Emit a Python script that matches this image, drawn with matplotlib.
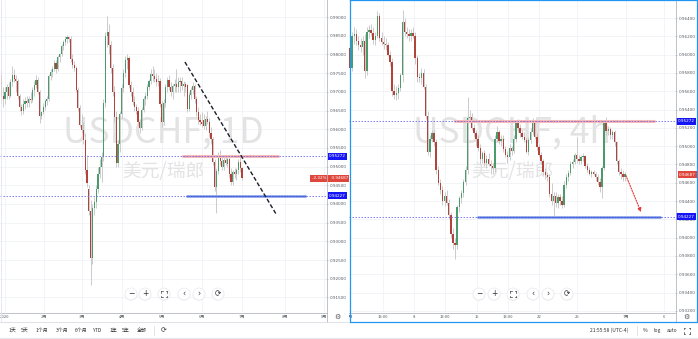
import numpy as np
import matplotlib
matplotlib.use("Agg")
import matplotlib.pyplot as plt
from matplotlib.patches import Circle

plt.rcParams['font.family'] = ['Noto Sans CJK SC', 'DejaVu Sans']

# ---------------- data: USDCHF daily (left) ----------------
left_start = -2
left_open = [
 .9745,.9690,.9680,.9700,.9712,.9690,.9725,.9745,.9735,.9730,
 .9688,.9660,.9648,.9668,.9675,.9670,.9682,.9678,.9705,.9718,
 .9732,.9700,.9635,.9645,.9660,.9675,.9680,.9742,.9752,.9762,
 .9777,.9760,.9792,.9800,.9822,.9832,.9840,.9846,.9842,.9788,
 .9772,.9764,.9705,.9657,.9612,.9598,.9571,.9491,.9440,.9380,
 .9256,.9390,.9405,.9440,.9480,.9500,.9526,.9670,.9850,.9860,
 .9825,.9765,.9700,.9633,.9510,.9560,.9640,.9710,.9750,.9785,
 .9790,.9718,.9700,.9672,.9660,.9650,.9620,.9604,.9652,.9680,
 .9690,.9712,.9728,.9748,.9742,.9735,.9725,.9730,.9668,.9620,
 .9670,.9712,.9732,.9712,.9700,.9715,.9720,.9712,.9725,.9730,
 .9715,.9720,.9718,.9655,.9692,.9705,.9716,.9680,.9645,.9625,
 .9620,.9625,.9608,.9628,.9620,.9590,.9575,.9512,.9445,.9488,
 .9530,.9515,.9500,.9518,.9508,.9520,.9480,.9458,.9485,.9480,
 .9490,.9512,.9495]
left_high = [
 .9758,.9712,.9712,.9722,.9725,.9735,.9770,.9760,.9745,.9735,
 .9695,.9668,.9680,.9685,.9690,.9688,.9700,.9712,.9730,.9745,
 .9740,.9705,.9650,.9670,.9682,.9690,.9748,.9760,.9770,.9785,
 .9785,.9798,.9805,.9828,.9838,.9848,.9852,.9850,.9848,.9800,
 .9782,.9770,.9712,.9665,.9640,.9620,.9590,.9530,.9450,.9410,
 .9400,.9420,.9450,.9500,.9520,.9540,.9680,.9860,.9902,.9880,
 .9835,.9775,.9715,.9650,.9570,.9650,.9720,.9760,.9795,.9800,
 .9795,.9730,.9712,.9690,.9668,.9660,.9628,.9660,.9690,.9700,
 .9720,.9735,.9760,.9768,.9760,.9750,.9745,.9738,.9675,.9680,
 .9720,.9740,.9745,.9725,.9720,.9735,.9760,.9740,.9740,.9740,
 .9730,.9725,.9722,.9700,.9712,.9725,.9720,.9690,.9660,.9640,
 .9645,.9640,.9635,.9650,.9630,.9605,.9580,.9520,.9495,.9540,
 .9545,.9530,.9525,.9528,.9525,.9525,.9495,.9490,.9495,.9495,
 .9520,.9525,.9500]
left_low = [
 .9670,.9660,.9668,.9680,.9680,.9685,.9715,.9725,.9700,.9680,
 .9650,.9638,.9640,.9655,.9660,.9660,.9670,.9672,.9690,.9710,
 .9695,.9617,.9628,.9640,.9652,.9665,.9675,.9732,.9740,.9755,
 .9750,.9755,.9780,.9795,.9812,.9825,.9830,.9832,.9780,.9765,
 .9755,.9700,.9650,.9605,.9590,.9560,.9480,.9445,.9370,.9183,
 .9240,.9370,.9390,.9430,.9470,.9460,.9515,.9660,.9820,.9800,
 .9750,.9690,.9620,.9500,.9500,.9540,.9630,.9700,.9740,.9760,
 .9710,.9690,.9665,.9650,.9640,.9610,.9590,.9598,.9645,.9665,
 .9680,.9705,.9720,.9730,.9725,.9715,.9715,.9660,.9605,.9612,
 .9660,.9700,.9705,.9690,.9680,.9700,.9700,.9700,.9700,.9705,
 .9690,.9700,.9645,.9650,.9680,.9695,.9670,.9635,.9615,.9610,
 .9605,.9600,.9598,.9615,.9580,.9560,.9505,.9435,.9377,.9480,
 .9505,.9490,.9490,.9505,.9500,.9470,.9450,.9450,.9470,.9465,
 .9480,.9485,.9465]
left_close = [
 .9690,.9680,.9700,.9712,.9690,.9725,.9745,.9735,.9730,.9688,
 .9660,.9648,.9668,.9675,.9670,.9682,.9678,.9705,.9718,.9732,
 .9700,.9635,.9645,.9660,.9675,.9680,.9742,.9752,.9762,.9777,
 .9760,.9792,.9800,.9822,.9832,.9840,.9846,.9842,.9788,.9772,
 .9764,.9705,.9657,.9612,.9598,.9571,.9491,.9456,.9380,.9256,
 .9390,.9405,.9440,.9480,.9500,.9526,.9670,.9850,.9860,.9825,
 .9765,.9700,.9633,.9510,.9560,.9640,.9710,.9750,.9785,.9790,
 .9718,.9700,.9672,.9660,.9650,.9620,.9604,.9652,.9680,.9690,
 .9712,.9728,.9748,.9742,.9735,.9725,.9730,.9668,.9620,.9670,
 .9712,.9732,.9712,.9700,.9715,.9720,.9712,.9725,.9730,.9715,
 .9720,.9712,.9655,.9692,.9705,.9716,.9680,.9645,.9625,.9620,
 .9615,.9608,.9628,.9620,.9590,.9575,.9512,.9445,.9488,.9530,
 .9515,.9500,.9518,.9510,.9520,.9480,.9458,.9485,.9480,.9490,
 .9512,.9495,.9469]

# ---------------- data: USDCHF 4h (right) ----------------
right_start = 0
right_open = [
 .9607,.9585,.9620,.9622,.9615,.9610,.9608,.9615,.9582,.9625,
 .9627,.9624,.9616,.9620,.9642,.9618,.9614,.9612,.9610,.9600,
 .9592,.9560,.9556,.9558,.9564,.9578,.9636,.9625,.9622,.9620,
 .9624,.9620,.9596,.9576,.9574,.9580,.9565,.9533,.9494,.9508,
 .9514,.9505,.9474,.9460,.9452,.9440,.9446,.9438,.9425,.9404,
 .9394,.9392,.9433,.9443,.9449,.9461,.9474,.9531,.9532,.9520,
 .9514,.9508,.9498,.9486,.9492,.9482,.9486,.9481,.9478,.9476,
 .9508,.9515,.9506,.9508,.9497,.9490,.9488,.9498,.9495,.9508,
 .9525,.9520,.9514,.9510,.9507,.9494,.9507,.9515,.9525,.9510,
 .9499,.9490,.9484,.9472,.9468,.9466,.9448,.9440,.9446,.9438,
 .9444,.9440,.9436,.9458,.9466,.9471,.9480,.9483,.9490,.9486,
 .9484,.9488,.9489,.9478,.9474,.9470,.9472,.9470,.9466,.9461,
 .9455,.9476,.9525,.9516,.9519,.9512,.9515,.9504,.9484,.9472,
 .9470,.9466]
right_high = [
 .9612,.9625,.9630,.9628,.9620,.9618,.9620,.9622,.9630,.9632,
 .9633,.9630,.9625,.9648,.9646,.9625,.9620,.9618,.9614,.9604,
 .9596,.9568,.9566,.9568,.9580,.9649,.9640,.9630,.9628,.9628,
 .9630,.9625,.9600,.9580,.9585,.9584,.9568,.9538,.9512,.9518,
 .9518,.9508,.9478,.9464,.9456,.9450,.9452,.9442,.9428,.9410,
 .9400,.9436,.9446,.9452,.9464,.9478,.9554,.9540,.9536,.9524,
 .9518,.9512,.9502,.9495,.9496,.9490,.9492,.9485,.9482,.9512,
 .9522,.9518,.9512,.9512,.9500,.9495,.9502,.9500,.9512,.9528,
 .9530,.9524,.9518,.9515,.9510,.9510,.9520,.9531,.9528,.9514,
 .9502,.9494,.9486,.9476,.9472,.9470,.9460,.9450,.9450,.9448,
 .9448,.9445,.9462,.9470,.9474,.9484,.9486,.9492,.9510,.9490,
 .9490,.9492,.9490,.9482,.9477,.9474,.9474,.9472,.9470,.9465,
 .9478,.9528,.9532,.9522,.9521,.9518,.9518,.9506,.9486,.9476,
 .9474,.9472]
right_low = [
 .9580,.9582,.9612,.9610,.9605,.9603,.9600,.9574,.9578,.9618,
 .9620,.9612,.9610,.9618,.9615,.9610,.9606,.9605,.9598,.9588,
 .9555,.9552,.9550,.9552,.9560,.9570,.9620,.9618,.9615,.9615,
 .9618,.9590,.9570,.9570,.9568,.9562,.9530,.9490,.9488,.9505,
 .9500,.9470,.9458,.9448,.9436,.9435,.9436,.9420,.9400,.9388,
 .9377,.9388,.9428,.9438,.9444,.9458,.9470,.9525,.9518,.9510,
 .9500,.9495,.9480,.9482,.9478,.9476,.9478,.9470,.9470,.9472,
 .9505,.9502,.9500,.9494,.9488,.9482,.9485,.9490,.9492,.9505,
 .9515,.9510,.9508,.9505,.9492,.9490,.9503,.9512,.9508,.9496,
 .9488,.9480,.9468,.9464,.9462,.9444,.9436,.9421,.9434,.9432,
 .9436,.9432,.9433,.9454,.9462,.9468,.9476,.9480,.9482,.9480,
 .9480,.9484,.9476,.9472,.9468,.9466,.9468,.9462,.9458,.9450,
 .9443,.9474,.9512,.9512,.9508,.9508,.9500,.9480,.9468,.9464,
 .9462,.9462]
right_close = [
 .9585,.9620,.9622,.9615,.9610,.9608,.9615,.9582,.9625,.9627,
 .9624,.9616,.9620,.9642,.9618,.9614,.9612,.9610,.9600,.9592,
 .9560,.9556,.9558,.9564,.9578,.9636,.9625,.9622,.9620,.9624,
 .9620,.9596,.9576,.9574,.9580,.9565,.9533,.9494,.9508,.9514,
 .9505,.9474,.9460,.9452,.9440,.9446,.9438,.9425,.9404,.9394,
 .9392,.9433,.9443,.9449,.9461,.9474,.9531,.9532,.9520,.9514,
 .9508,.9498,.9486,.9492,.9482,.9486,.9481,.9478,.9476,.9508,
 .9515,.9506,.9508,.9497,.9490,.9488,.9498,.9495,.9508,.9525,
 .9520,.9514,.9510,.9507,.9494,.9507,.9515,.9525,.9510,.9499,
 .9490,.9484,.9472,.9468,.9466,.9448,.9440,.9446,.9438,.9444,
 .9440,.9436,.9458,.9466,.9471,.9480,.9483,.9490,.9486,.9484,
 .9488,.9489,.9478,.9474,.9470,.9472,.9470,.9466,.9461,.9455,
 .9476,.9525,.9516,.9519,.9512,.9515,.9504,.9484,.9472,.9470,
 .9466,.9469]

# ---------------- axes ticks / labels ----------------
left_yticks = [0.915, 0.920, 0.925, 0.930, 0.935, 0.940, 0.945, 0.950,
               0.955, 0.960, 0.965, 0.970, 0.975, 0.980, 0.985, 0.990]
right_yticks = [0.932, 0.934, 0.936, 0.938, 0.940, 0.942, 0.944, 0.946, 0.948,
                0.950, 0.952, 0.954, 0.956, 0.958, 0.960, 0.962, 0.964]
left_xtick_pos = [0, 21.4, 42.2, 64.2, 86.2, 108.2, 130, 153.6, 175]
left_xtick_labels = ['2020', '2月', '3月', '4月', '5月', '6月', '7月', '8月', '9月']
right_xtick_pos = [0, 15.7, 30.5, 45.2, 60.5, 75.2, 90, 108.1, 131.4, 149.5]
right_xtick_labels = ['6月', '13:00', '8', '13:00', '15', '13:00', '22', '25', '7月', '6']

# drawing annotations (price levels / trend line / arrow)
resistance = 0.95272
support = 0.94227
last_price = 0.94687
change_pct = '-2.32%'
left_trend_x = [98.7, 148.7]
left_trend_y = [0.97797, 0.93732]
left_res_span = [97.1, 150.3]
left_sup_span = [99.3, 165.1]
right_res_span = [49.5, 145.2]
right_sup_span = [60.3, 148.1]
right_arrow_x = [131.4, 138.6]
right_arrow_y = [0.9468, 0.9428]

# ---------------- styling ----------------
UP = '#4b9a6c'
DOWN = '#b2433a'
WICK = '#c3c3c3'
GRID = '#eef0f4'
TXT = '#555a63'
BLUE_LBL = '#1515f5'
RED_LBL = '#e0473c'

W, H = 698, 339
fig = plt.figure(figsize=(W / 100, H / 100), dpi=100)
fig.patch.set_facecolor('white')


def px_axes(x0, y0, x1, y1):
    return fig.add_axes([x0 / W, 1 - y1 / H, (x1 - x0) / W, (y1 - y0) / H])


def candles(ax, start, o, h, l, c, width, minh):
    o, h, l, c = map(np.asarray, (o, h, l, c))
    x = np.arange(start, start + len(o))
    ax.vlines(x, l, h, color=WICK, lw=0.6, zorder=3)
    bottom = np.minimum(o, c)
    height = np.maximum(np.abs(c - o), minh)
    cols = np.where(c >= o, UP, DOWN)
    ax.bar(x, height, bottom=bottom, width=width, color=cols, lw=0, zorder=4)


def pane(x0, x1, start, o, h, l, c, xlim, ylim, yticks, xpos, xlabels,
         width, minh, title, sub):
    ax = px_axes(x0, 0, x1, 312)
    ax.set_xlim(xlim)
    ax.set_ylim(ylim)
    ax.set_facecolor('white')
    for s in ax.spines.values():
        s.set_visible(False)
    ax.set_yticks(yticks)
    ax.set_yticklabels([f'{t:.5f}' for t in yticks], family='DejaVu Sans')
    ax.yaxis.tick_right()
    ax.tick_params(axis='y', length=1.6, width=0.4, color='#9a9da5',
                   labelsize=3.0, labelcolor=TXT, pad=1.4)
    ax.set_xticks(xpos)
    ax.tick_params(axis='x', length=0, labelbottom=False)
    ax.grid(True, color=GRID, lw=0.5)
    ax.set_axisbelow(True)
    ax.text(0.5, 1 - 132 / 312, title, transform=ax.transAxes, ha='center',
            va='center', fontsize=25.5, color='#e3e3e3', zorder=1)
    ax.text(0.5, 1 - 172 / 312, sub, transform=ax.transAxes, ha='center',
            va='center', fontsize=13.5, color='#e3e3e3', zorder=1)
    candles(ax, start, o, h, l, c, width, minh)

    tax = px_axes(x0, 312, x1, 322)
    tax.set_xlim(xlim)
    tax.set_ylim(0, 1)
    tax.axis('off')
    for p, lab in zip(xpos, xlabels):
        tax.text(p, 0.55, lab, ha='center', va='center', fontsize=3.0,
                 color=TXT, clip_on=True)
    return ax


def level_lines(ax, res_span, sup_span):
    ax.hlines(resistance, res_span[0], res_span[1], color='#f6bcbc', lw=2.2, zorder=5)
    ax.hlines(resistance, res_span[0], res_span[1], color='#e06a6a', lw=0.5,
              linestyles=(0, (2, 1.5)), zorder=6)
    ax.hlines(support, sup_span[0], sup_span[1], color='#9db4ee', lw=2.0, zorder=5)
    ax.hlines(support, sup_span[0], sup_span[1], color='#3a62d6', lw=0.9, zorder=6)
    for lv in (resistance, support):
        ax.axhline(lv, color='#6f6ff0', lw=0.6, ls=(0, (1.8, 1.8)), zorder=7)


def price_labels(x0, x1, ylim, red_text):
    pax = px_axes(x0, 0, x1, 312)
    pax.set_ylim(ylim)
    pax.set_xlim(0, 1)
    pax.axis('off')
    for lv in (resistance, support):
        pax.text(0.5, lv, f'{lv:.5f}', ha='center', va='center', fontsize=3.0,
                 color='white', family='DejaVu Sans', zorder=10, clip_on=False,
                 bbox=dict(boxstyle='square,pad=0.35', fc=BLUE_LBL, ec='none'))
    pax.text(0.96, last_price, red_text, ha='right', va='center', fontsize=3.0,
             color='white', family='DejaVu Sans', zorder=10, clip_on=False,
             bbox=dict(boxstyle='square,pad=0.35', fc=RED_LBL, ec='none'))
    return pax


# ---------------- left pane (1D) ----------------
lxlim = (-2.74, 176.1)
lylim = (0.91112, 0.99455)
axl = pane(0, 326, left_start, left_open, left_high, left_low, left_close,
           lxlim, lylim, left_yticks, left_xtick_pos, left_xtick_labels,
           0.62, 0.00028, 'USDCHF, 1D', '美元/瑞郎')
level_lines(axl, left_res_span, left_sup_span)
axl.plot(left_trend_x, left_trend_y, color='#1d1d2b', lw=1.0,
         ls=(0, (3, 1.6)), zorder=8)
price_labels(326, 349, lylim, f'{change_pct}    {last_price:.5f}')

# ---------------- right pane (4h) ----------------
rxlim = (-0.5, 154.8)
rylim = (0.93187, 0.96597)
axr = pane(349, 675, right_start, right_open, right_high, right_low, right_close,
           rxlim, rylim, right_yticks, right_xtick_pos, right_xtick_labels,
           0.66, 0.00012, 'USDCHF, 4h', '美元/瑞郎')
level_lines(axr, right_res_span, right_sup_span)
axr.annotate('', xy=(right_arrow_x[1], right_arrow_y[1]),
             xytext=(right_arrow_x[0], right_arrow_y[0]),
             arrowprops=dict(arrowstyle='-|>', color='#e53935', lw=0.8,
                             ls=(0, (1.2, 1.2)), mutation_scale=5,
                             shrinkA=0, shrinkB=0), zorder=9)
price_labels(675, 697, rylim, f'{last_price:.5f}')

# ---------------- UI overlay (pixel coordinates) ----------------
ov = fig.add_axes([0, 0, 1, 1])
ov.set_xlim(0, W)
ov.set_ylim(H, 0)
ov.axis('off')

BORDER = '#b5b8c0'
ov.plot([326.5, 326.5], [0, 322], color=BORDER, lw=0.6)
ov.plot([675.5, 675.5], [0, 322], color=BORDER, lw=0.6)
ov.plot([0, 326.5], [312.5, 312.5], color=BORDER, lw=0.6)
ov.plot([349, 675.5], [312.5, 312.5], color=BORDER, lw=0.6)
ov.plot([0, 349], [322, 322], color='#d9dce3', lw=0.6)
ov.plot([0, W], [338, 338], color='#e4e6eb', lw=0.8)
ov.plot([1, 1], [0, 322], color='#e2e5ee', lw=0.6)
# selected pane border
SEL = '#2196f3'
ov.plot([349.5, 349.5, 697.2, 697.2, 349.5], [0, 322, 322, 0, 0],
        color=SEL, lw=0.9)

# gear icons
ov.text(337, 317, '⚙', ha='center', va='center', fontsize=5, color='#555',
        family='DejaVu Sans')
ov.text(686, 317, '⚙', ha='center', va='center', fontsize=5, color='#555',
        family='DejaVu Sans')


def fullscreen_icon(x, y, s=2.6, c=1.1):
    for sx in (-1, 1):
        for sy in (-1, 1):
            ov.plot([x + sx * s, x + sx * s], [y + sy * s, y + sy * (s - c)],
                    color='#444', lw=0.5, zorder=6)
            ov.plot([x + sx * s, x + sx * (s - c)], [y + sy * s, y + sy * s],
                    color='#444', lw=0.5, zorder=6)


def buttons(xs, y=294):
    glyphs = ['−', '+', None, '‹', '›', '⟳']
    for x, g in zip(xs, glyphs):
        ov.add_patch(Circle((x, y + 0.4), 6.3, fc='#eceef2', ec='none', zorder=2))
        ov.add_patch(Circle((x, y), 6.0, fc='white', ec='#e3e5ea', lw=0.4, zorder=3))
        if g is None:
            fullscreen_icon(x, y)
        else:
            ov.text(x, y, g, ha='center', va='center', fontsize=5.5, color='#333',
                    family='DejaVu Sans', zorder=6)


buttons([131, 145, 164, 184, 199, 218])
buttons([479, 494, 513, 533, 548, 567])

# bottom toolbar
toolbar = [('1天', 12), ('5天', 25), ('1个月', 42), ('3个月', 62), ('6个月', 81),
           ('YTD', 98), ('1年', 113), ('5年', 126), ('全部', 142)]
for t, x in toolbar:
    ov.text(x, 330.5, t, ha='center', va='center', fontsize=3.6, color='#333')
ov.plot([154, 154], [326, 335], color='#d6d8de', lw=0.5)
ov.text(164, 330.5, '⟳', ha='center', va='center', fontsize=5, color='#333',
        family='DejaVu Sans')
ov.text(609, 330.5, '21:55:58 (UTC-4)', ha='center', va='center', fontsize=3.6,
        color='#333')
ov.plot([637, 637], [326, 335], color='#d6d8de', lw=0.5)
ov.text(645, 330.5, '%', ha='center', va='center', fontsize=3.6, color='#333')
ov.text(657, 330.5, 'log', ha='center', va='center', fontsize=3.6, color='#333')
ov.text(672, 330.5, 'auto', ha='center', va='center', fontsize=3.6, color='#333')
fullscreen_icon(687, 330.5, s=3.0, c=1.2)

fig.savefig('out.png', dpi=100, facecolor='white')
